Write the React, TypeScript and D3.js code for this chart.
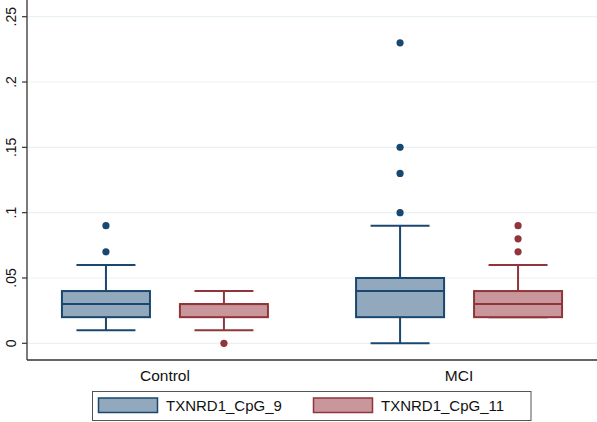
import React from "react";
import * as d3 from "d3";

const categories = ["Control", "MCI"];
const series = ["TXNRD1_CpG_9", "TXNRD1_CpG_11"];
// [lower whisker, q1, median, q3, upper whisker] per category
const cpg9Stats = [
  [0.01, 0.02, 0.03, 0.04, 0.06],
  [0.0, 0.02, 0.04, 0.05, 0.09],
];
const cpg11Stats = [
  [0.01, 0.02, 0.03, 0.03, 0.04],
  [0.02, 0.02, 0.03, 0.04, 0.06],
];
const cpg9Outliers = [
  [0.07, 0.09],
  [0.1, 0.13, 0.15, 0.23],
];
const cpg11Outliers = [[0.0], [0.07, 0.08, 0.09]];
const yTicks = [0, 0.05, 0.1, 0.15, 0.2, 0.25];
const yTickLabels = ["0", ".05", ".1", ".15", ".2", ".25"];

const strokeColors = ["#1a476f", "#90353b"];
const fillColors = ["#91a8bd", "#c9969b"];

const W = 597;
const H = 422;
const axisX = 27;
const axisY = 360;
const FONT = "'Liberation Sans', Arial, sans-serif";

export default function App() {
  const y = d3.scaleLinear().domain([0, 0.25]).range([343.3, 16.7]);
  const x = d3.scalePoint<string>().domain(categories).range([axisX, W]).padding(0.469);
  const inner = d3.scaleBand<string>().domain(series).range([-103, 103]).paddingInner(0.254);
  const bw = inner.bandwidth();
  const capW = bw * 0.67;
  const statsBySeries = [cpg9Stats, cpg11Stats];
  const outBySeries = [cpg9Outliers, cpg11Outliers];

  const legendLeft = 92.5;
  const legendRight = 531;
  const legendTop = 391.5;
  const legendBottom = 420.5;
  const keyXs = [98.5, 313.5];
  const keyW = 59;
  const keyTop = 398;
  const keyH = 14.5;

  return (
    <svg
      width={W}
      height={H}
      style={{ position: "absolute", left: 0, top: 0, background: "#fff" }}
      fontFamily={FONT}
    >
      <rect x={0} y={0} width={W} height={H} fill="#fff" />
      {/* grid */}
      {yTicks.map((t) => (
        <line key={"g" + t} x1={axisX + 1} x2={W} y1={y(t)} y2={y(t)} stroke="#e9f1f3" strokeWidth={1.2} />
      ))}
      {/* y axis */}
      <line x1={axisX} x2={axisX} y1={0} y2={axisY} stroke="#333" strokeWidth={1.3} />
      {yTicks.map((t, i) => (
        <g key={"t" + t}>
          <line x1={axisX - 5} x2={axisX} y1={y(t)} y2={y(t)} stroke="#333" strokeWidth={1.2} />
          <text
            transform={`translate(15.5, ${y(t)}) rotate(-90)`}
            textAnchor="middle"
            fontSize={14}
            fill="#111"
          >
            {yTickLabels[i]}
          </text>
        </g>
      ))}
      {/* x axis */}
      <line x1={axisX} x2={W} y1={axisY} y2={axisY} stroke="#333" strokeWidth={1.3} />
      {categories.map((c) => (
        <text key={c} x={x(c)} y={381} textAnchor="middle" fontSize={15.5} fill="#111">
          {c}
        </text>
      ))}
      {/* boxes */}
      {series.map((s, si) =>
        categories.map((c, ci) => {
          const cx = (x(c) as number) + (inner(s) as number) + bw / 2;
          const [lo, q1, med, q3, hi] = statsBySeries[si][ci];
          const sc = strokeColors[si];
          return (
            <g key={s + c}>
              <line x1={cx} x2={cx} y1={y(q3)} y2={y(hi)} stroke={sc} strokeWidth={2} />
              <line x1={cx} x2={cx} y1={y(q1)} y2={y(lo)} stroke={sc} strokeWidth={2} />
              <line x1={cx - capW / 2} x2={cx + capW / 2} y1={y(hi)} y2={y(hi)} stroke={sc} strokeWidth={2} />
              <line x1={cx - capW / 2} x2={cx + capW / 2} y1={y(lo)} y2={y(lo)} stroke={sc} strokeWidth={2} />
              <rect
                x={cx - bw / 2}
                y={y(q3)}
                width={bw}
                height={y(q1) - y(q3)}
                fill={fillColors[si]}
                stroke={sc}
                strokeWidth={2}
              />
              <line x1={cx - bw / 2} x2={cx + bw / 2} y1={y(med)} y2={y(med)} stroke={sc} strokeWidth={2} />
              {outBySeries[si][ci].map((v, k) => (
                <circle key={k} cx={cx} cy={y(v)} r={3.6} fill={sc} />
              ))}
            </g>
          );
        })
      )}
      {/* legend */}
      <rect
        x={legendLeft}
        y={legendTop}
        width={legendRight - legendLeft}
        height={legendBottom - legendTop}
        fill="#fff"
        stroke="#555"
        strokeWidth={1}
      />
      {series.map((s, si) => (
        <g key={"l" + s}>
          <rect
            x={keyXs[si]}
            y={keyTop}
            width={keyW}
            height={keyH}
            fill={fillColors[si]}
            stroke={strokeColors[si]}
            strokeWidth={1.5}
          />
          <text x={keyXs[si] + keyW + 8.5} y={411} fontSize={15} fill="#111">
            {s}
          </text>
        </g>
      ))}
    </svg>
  );
}
